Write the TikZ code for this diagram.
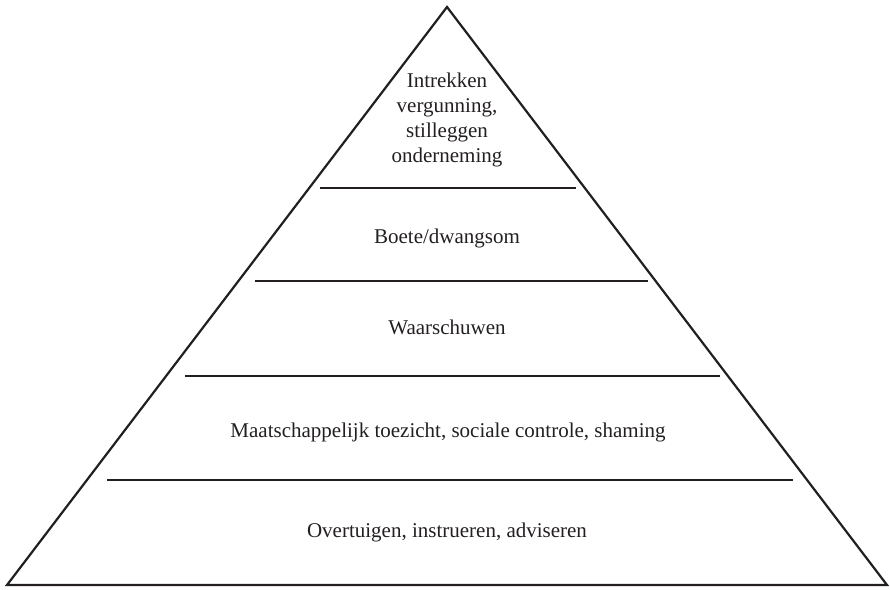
\documentclass[tikz,border=0pt]{standalone}
\usepackage{fontspec}
\setmainfont{Liberation Serif}
\usepackage{tikz}
\usetikzlibrary{positioning}
\definecolor{pyrink}{HTML}{231F20}

\begin{document}
\begin{tikzpicture}[
  x=1pt, y=-1pt,
  outline/.style={draw=pyrink, line width=2.2pt, line join=miter},
  tier/.style={draw=pyrink, line width=2.5pt},
  label/.style={font=\fontsize{21}{25.3}\selectfont, text=pyrink, align=center, inner sep=0pt},
]
  \useasboundingbox (0,0) rectangle (890,589);
  \draw[outline] (447,7) -- (887,585) -- (7,585) -- cycle;

  \draw[tier] (320,188) -- (576,188);
  \draw[tier] (255,281) -- (648,281);
  \draw[tier] (185,376) -- (720,376);
  \draw[tier] (107,480) -- (793,480);

  \node[label] (top) at (447,120)
    {Intrekken\\vergunning,\\stilleggen\\onderneming};
  \node[label] (fine) at (447,238) {Boete/dwangsom};
  \node[label] (warn) at (447,327) {Waarschuwen};
  \node[label] (social) at (448,432)
    {Maatschappelijk toezicht, sociale controle, shaming};
  \node[label] (advise) at (447,532) {Overtuigen, instrueren, adviseren};
\end{tikzpicture}
\end{document}
